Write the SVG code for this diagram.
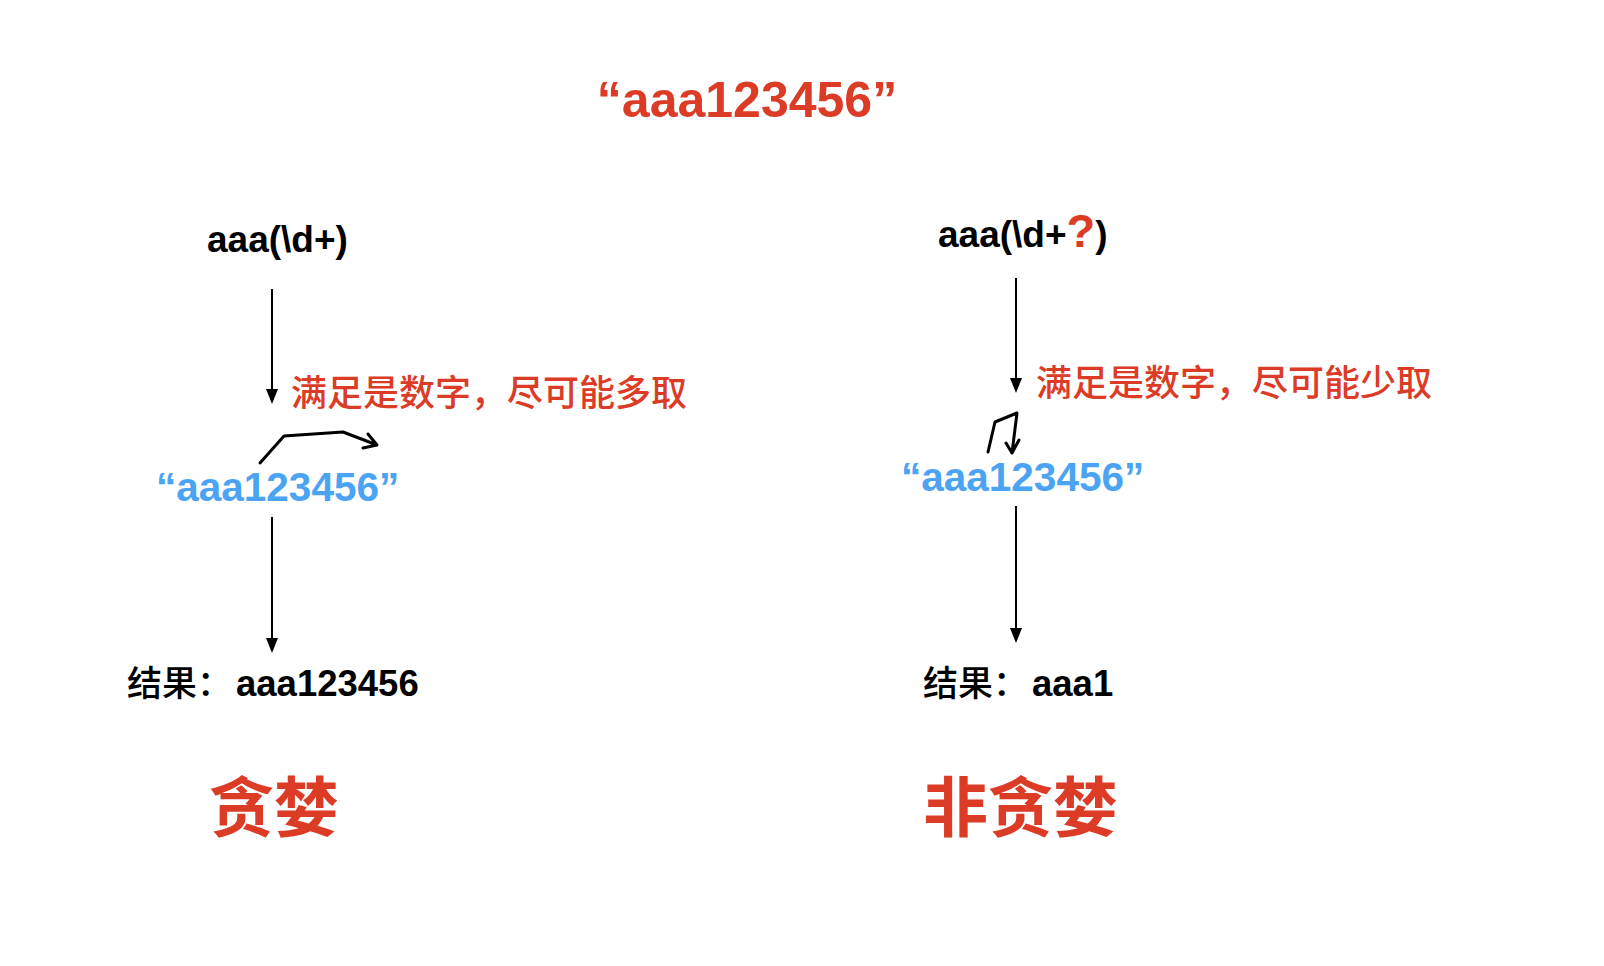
<svg xmlns="http://www.w3.org/2000/svg" width="1604" height="966" viewBox="0 0 1604 966">
<style>
.red{fill:#dc3b26}
.blue{fill:#4ba3f4}
.b{font-family:"Liberation Sans","Noto Sans CJK SC",sans-serif;font-weight:bold}
.cjk{font-family:"Noto Sans CJK SC","Liberation Sans",sans-serif}
.ln{stroke:#000;stroke-width:2;fill:none}
.hand{stroke:#000;stroke-width:3;fill:none;stroke-linecap:round;stroke-linejoin:round}
</style>
<rect width="1604" height="966" fill="#fff"/>
<g id="title"><text class="b red" x="747" y="117" font-size="50" text-anchor="middle">“aaa123456”</text></g>
<g id="greedy-regex"><text class="b" x="207" y="252" font-size="37">aaa(\d+)</text></g>
<g id="lazy-regex"><text class="b" x="938" y="247" font-size="37">aaa(\d+<tspan class="red" font-size="47">?</tspan>)</text></g>
<g id="greedy-label"><text class="cjk red" x="291" y="406" font-size="36" font-weight="500">满足是数字，尽可能多取</text></g>
<g id="lazy-label"><text class="cjk red" x="1036" y="396" font-size="36" font-weight="500">满足是数字，尽可能少取</text></g>
<g id="greedy-string"><text class="b blue" x="156" y="501" font-size="40.5">“aaa123456”</text></g>
<g id="lazy-string"><text class="b blue" x="901" y="491" font-size="40.5">“aaa123456”</text></g>
<g id="greedy-result"><text x="127" y="696" font-size="35"><tspan class="cjk" font-weight="500">结果：</tspan><tspan class="b" font-size="36.5" dx="4">aaa123456</tspan></text></g>
<g id="lazy-result"><text x="923" y="696" font-size="35"><tspan class="cjk" font-weight="500">结果：</tspan><tspan class="b" font-size="36.5" dx="4">aaa1</tspan></text></g>
<g id="greedy-name"><text class="cjk red" x="209" y="831" font-size="65" font-weight="bold">贪婪</text></g>
<g id="lazy-name"><text class="cjk red" x="923" y="831" font-size="65" font-weight="bold">非贪婪</text></g>
<g id="connectors">
<path class="ln" d="M272,289 V391"/><path d="M266,389 H278 L272,404 Z"/>
<path class="ln" d="M272,517 V640"/><path d="M266,638 H278 L272,653 Z"/>
<path class="ln" d="M1016,278 V380"/><path d="M1010,378 H1022 L1016,393 Z"/>
<path class="ln" d="M1016,506 V630"/><path d="M1010,628 H1022 L1016,643 Z"/>
<path class="hand" d="M260,463 L284,436 L343,432 L377,445 M368,434 L377,445 L363,448"/>
<path class="hand" d="M988,452 L995,422 L1017,413 L1012,453 M1006,443 L1012,453 L1019,440"/>
</g>
</svg>
